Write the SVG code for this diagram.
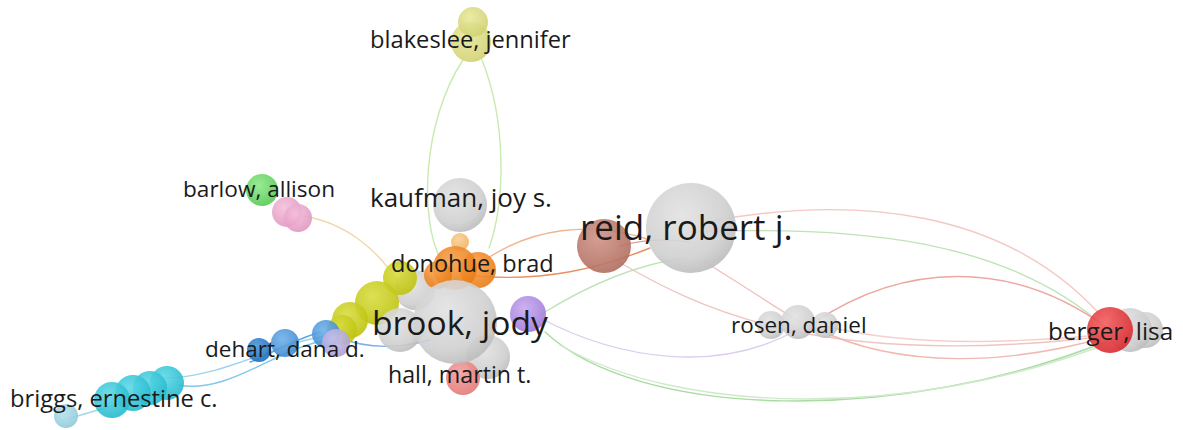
<svg xmlns="http://www.w3.org/2000/svg" width="1183" height="430" viewBox="0 0 1183 430">
<defs>
<radialGradient id="gGray" cx="0.4" cy="0.35" r="0.7"><stop offset="0" stop-color="#e2e2e2"/><stop offset="0.7" stop-color="#cfcfcf"/><stop offset="1" stop-color="#b9b9b9"/></radialGradient>
<radialGradient id="gOrange" cx="0.4" cy="0.35" r="0.7"><stop offset="0" stop-color="#f7a048"/><stop offset="1" stop-color="#e87a14"/></radialGradient>
<radialGradient id="gLtOrange" cx="0.4" cy="0.35" r="0.7"><stop offset="0" stop-color="#f9cf92"/><stop offset="1" stop-color="#f2b060"/></radialGradient>
<radialGradient id="gYellow" cx="0.4" cy="0.35" r="0.7"><stop offset="0" stop-color="#e8e89c"/><stop offset="1" stop-color="#d0d070"/></radialGradient>
<radialGradient id="gYG" cx="0.4" cy="0.35" r="0.7"><stop offset="0" stop-color="#d9dc40"/><stop offset="1" stop-color="#bcc20c"/></radialGradient>
<radialGradient id="gRed" cx="0.4" cy="0.35" r="0.7"><stop offset="0" stop-color="#f26060"/><stop offset="1" stop-color="#d8252c"/></radialGradient>
<radialGradient id="gPink" cx="0.4" cy="0.35" r="0.7"><stop offset="0" stop-color="#f2a0a0"/><stop offset="1" stop-color="#e37676"/></radialGradient>
<radialGradient id="gBrown" cx="0.4" cy="0.35" r="0.7"><stop offset="0" stop-color="#cf9488"/><stop offset="1" stop-color="#b06a5c"/></radialGradient>
<radialGradient id="gPurple" cx="0.4" cy="0.35" r="0.7"><stop offset="0" stop-color="#c8a8ee"/><stop offset="1" stop-color="#9c78d8"/></radialGradient>
<radialGradient id="gLav" cx="0.4" cy="0.35" r="0.7"><stop offset="0" stop-color="#cbc4ec"/><stop offset="1" stop-color="#a89cd8"/></radialGradient>
<radialGradient id="gBlue" cx="0.4" cy="0.35" r="0.7"><stop offset="0" stop-color="#6fb0e8"/><stop offset="1" stop-color="#3c88d0"/></radialGradient>
<radialGradient id="gDkBlue" cx="0.4" cy="0.35" r="0.7"><stop offset="0" stop-color="#4a98dc"/><stop offset="1" stop-color="#1e6cb8"/></radialGradient>
<radialGradient id="gCyan" cx="0.4" cy="0.35" r="0.7"><stop offset="0" stop-color="#5ed8e6"/><stop offset="1" stop-color="#22b8cc"/></radialGradient>
<radialGradient id="gLtCyan" cx="0.4" cy="0.35" r="0.7"><stop offset="0" stop-color="#b6e2ec"/><stop offset="1" stop-color="#8cc8d8"/></radialGradient>
<radialGradient id="gMagenta" cx="0.4" cy="0.35" r="0.7"><stop offset="0" stop-color="#f4c0dc"/><stop offset="1" stop-color="#e094bf"/></radialGradient>
<radialGradient id="gGreen" cx="0.4" cy="0.35" r="0.7"><stop offset="0" stop-color="#8ee88a"/><stop offset="1" stop-color="#52c84e"/></radialGradient>
</defs>
<style>
.lbl{font-family:"Open Sans","Noto Sans",sans-serif;fill:#1a1a1a}
.e{fill:none;stroke-width:1.4;stroke-linecap:round}
.n{opacity:0.9}
</style>
<g id="edges">
<path class="e" d="M463,60 C423,120 418,220 442,262" stroke="#c8eab0"/>
<path class="e" d="M482,60 C506,120 506,200 489,248" stroke="#c8eab0"/>
<path class="e" d="M302,216 C345,222 378,250 398,282" stroke="#eed9a8"/>
<path class="e" d="M482,262 C530,228 590,220 650,240" stroke="#f0b590" stroke-width="2"/>
<path class="e" d="M475,276 C545,282 600,268 650,248" stroke="#e89060" stroke-width="2"/>
<path class="e" d="M620,246 C640,240 660,238 690,242" stroke="#e0a098" stroke-width="6"/>
<path class="e" d="M705,222 C850,195 1010,205 1110,326" stroke="#f4c8c4"/>
<path class="e" d="M692,232 C860,225 1010,240 1108,330" stroke="#bfe3b8"/>
<path class="e" d="M612,258 C700,310 820,370 1108,336" stroke="#f0c4c0"/>
<path class="e" d="M705,262 C750,290 780,310 800,322" stroke="#f0c0bc"/>
<path class="e" d="M815,322 C900,265 1010,255 1110,330" stroke="#eca8a0" stroke-width="1.8"/>
<path class="e" d="M815,328 C900,370 1010,365 1110,336" stroke="#f0b8b0" stroke-width="1.8"/>
<path class="e" d="M825,326 C900,345 1000,345 1110,334" stroke="#f4d0cc"/>
<path class="e" d="M540,318 C620,360 720,375 800,328" stroke="#dccdf0"/>
<path class="e" d="M540,315 C580,290 630,265 685,258" stroke="#bfe3b8"/>
<path class="e" d="M545,332 C640,420 900,425 1110,340" stroke="#a8dca0" stroke-width="1.8"/>
<path class="e" d="M560,345 C680,415 910,420 1112,342" stroke="#cfeacb"/>
<path class="e" d="M330,340 C280,345 230,395 178,385" stroke="#80c8ec" stroke-width="1.8"/>
<path class="e" d="M330,336 C280,340 220,380 160,378" stroke="#9ad4ee"/>
<path class="e" d="M320,332 C280,345 260,360 250,362" stroke="#5ca8e0"/>
<path class="e" d="M160,392 C130,400 100,410 70,418" stroke="#a0d8e6"/>
<path class="e" d="M340,338 C370,350 400,348 430,340" stroke="#7ab0e8"/>
</g>
<g id="node-blakeslee">
<circle class="n" cx="471" cy="42" r="20" fill="url(#gYellow)"/>
<circle class="n" cx="473" cy="22" r="15" fill="url(#gYellow)"/>
<text class="lbl" x="370" y="48" font-size="23.7">blakeslee, jennifer</text>
</g>
<g id="node-barlow">
<circle class="n" cx="262" cy="190" r="16" fill="url(#gGreen)"/>
<circle class="n" cx="287" cy="212" r="15" fill="url(#gMagenta)"/>
<circle class="n" cx="298" cy="218" r="14" fill="url(#gMagenta)"/>
<text class="lbl" x="183" y="197" font-size="22.6">barlow, allison</text>
</g>
<g id="node-kaufman">
<circle class="n" cx="460" cy="205" r="27" fill="url(#gGray)"/>
<text class="lbl" x="370" y="207" font-size="26">kaufman, joy s.</text>
</g>
<g id="node-cluster">
<circle class="n" cx="460" cy="242" r="9" fill="url(#gLtOrange)"/>
<circle class="n" cx="415" cy="290" r="20" fill="url(#gGray)"/>
<circle class="n" cx="400" cy="278" r="17" fill="url(#gYG)"/>
<circle class="n" cx="478" cy="270" r="18" fill="url(#gOrange)"/>
<circle class="n" cx="455" cy="268" r="22" fill="url(#gOrange)"/>
<circle class="n" cx="438" cy="275" r="14" fill="url(#gOrange)"/>
<circle class="n" cx="377" cy="303" r="22" fill="url(#gYG)"/>
<circle class="n" cx="350" cy="320" r="18" fill="url(#gYG)"/>
<circle class="n" cx="342" cy="330" r="15" fill="url(#gYG)"/>
<circle class="n" cx="400" cy="330" r="22" fill="url(#gGray)"/>
<circle class="n" cx="488" cy="357" r="22" fill="url(#gGray)"/>
<circle class="n" cx="463" cy="378" r="17" fill="url(#gPink)"/>
<circle class="n" cx="455" cy="322" r="42" fill="url(#gGray)"/>
<circle class="n" cx="528" cy="314" r="18" fill="url(#gPurple)"/>
<text class="lbl" x="391" y="272" font-size="23.5">donohue, brad</text>
<text class="lbl" x="372" y="335" font-size="33.6">brook, jody</text>
<text class="lbl" x="388" y="383" font-size="23.2">hall, martin t.</text>
</g>
<g id="node-dehart">
<circle class="n" cx="326" cy="334" r="14" fill="url(#gBlue)"/>
<circle class="n" cx="336" cy="343" r="14" fill="url(#gLav)"/>
<circle class="n" cx="285" cy="343" r="14" fill="url(#gBlue)"/>
<circle class="n" cx="259" cy="350" r="12" fill="url(#gDkBlue)"/>
<text class="lbl" x="205" y="357" font-size="22.5">dehart, dana d.</text>
</g>
<g id="node-briggs">
<circle class="n" cx="66" cy="416" r="12" fill="url(#gLtCyan)"/>
<circle class="n" cx="167" cy="383" r="17" fill="url(#gCyan)"/>
<circle class="n" cx="150" cy="388" r="17" fill="url(#gCyan)"/>
<circle class="n" cx="133" cy="393" r="18" fill="url(#gCyan)"/>
<circle class="n" cx="112" cy="400" r="18" fill="url(#gCyan)"/>
<text class="lbl" x="10" y="407" font-size="23.7">briggs, ernestine c.</text>
</g>
<g id="node-reid">
<circle class="n" cx="604" cy="246" r="27" fill="url(#gBrown)"/>
<circle class="n" cx="691" cy="228" r="45" fill="url(#gGray)"/>
<text class="lbl" x="580" y="240" font-size="35">reid, robert j.</text>
</g>
<g id="node-rosen">
<circle class="n" cx="771" cy="325" r="14" fill="url(#gGray)"/>
<circle class="n" cx="798" cy="322" r="17" fill="url(#gGray)"/>
<circle class="n" cx="825" cy="325" r="13" fill="url(#gGray)"/>
<text class="lbl" x="731" y="333" font-size="22.5">rosen, daniel</text>
</g>
<g id="node-berger">
<circle class="n" cx="1145" cy="330" r="18" fill="url(#gGray)"/>
<circle class="n" cx="1130" cy="330" r="22" fill="url(#gGray)"/>
<circle class="n" cx="1110" cy="330" r="23" fill="url(#gRed)"/>
<text class="lbl" x="1048" y="340" font-size="24.3">berger, lisa</text>
</g>
</svg>
